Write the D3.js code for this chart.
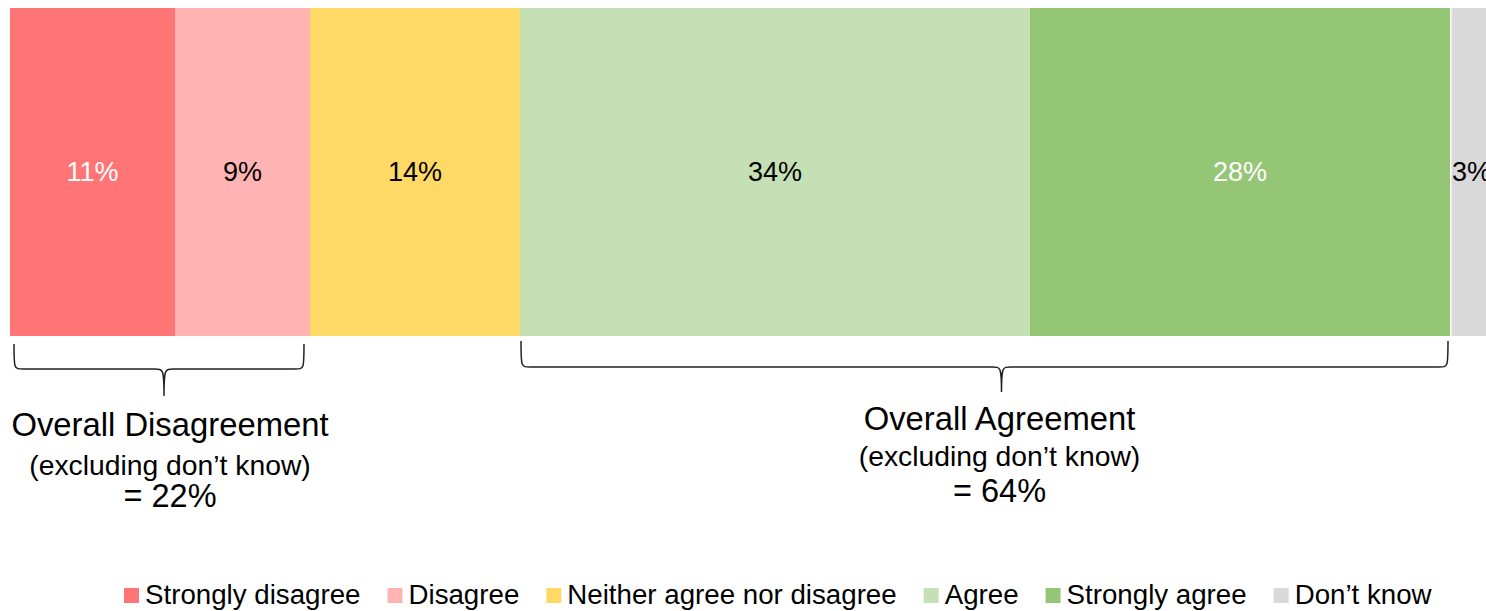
<!DOCTYPE html>
<html><head><meta charset="utf-8">
<script src="https://cdn.jsdelivr.net/npm/d3@7"></script>
<style>
html,body{margin:0;padding:0;background:#fff;overflow:hidden}
text{font-family:"Liberation Sans",Arial,sans-serif}
</style></head>
<body><svg id="chart" width="1486" height="611"></svg>
<script>
// ---- data ----
const categories = ["Strongly disagree","Disagree","Neither agree nor disagree","Agree","Strongly agree","Don\u2019t know"];
const values = [11, 9, 14, 34, 28, 3];
const colors = ["#FF7575","#FFB3B3","#FFD966","#C5E0B4","#95C675","#D9D9D9"];
const labelColors = ["#ffffff","#000000","#000000","#000000","#ffffff","#000000"];
const groupTitles = ["Overall Disagreement","Overall Agreement"];
const groupSubtitles = ["(excluding don\u2019t know)","(excluding don\u2019t know)"];
const groupFrom = [0, 3];
const groupTo = [1, 4];
const groupTotals = [22, 64];

// ---- layout ----
const svg = d3.select("#chart");
const x = d3.scaleLinear().domain([0, 100]).range([10, 1510]);
const y = d3.scaleBand().domain(["all"]).range([8, 336]).padding(0);

let cum = 0;
const segs = values.map((v, i) => { const s = {i, v, x0: cum, x1: cum + v}; cum += v; return s; });

svg.append("g").selectAll("rect").data(segs).join("rect")
  .attr("x", d => x(d.x0) + (d.i === 5 ? 1.5 : 0))
  .attr("y", y("all"))
  .attr("width", d => x(d.x1) - x(d.x0) - (d.i === 5 ? 1.5 : 0))
  .attr("height", y.bandwidth())
  .attr("fill", d => colors[d.i]);

svg.append("g").selectAll("text").data(segs).join("text")
  .attr("x", d => (x(d.x0) + x(d.x1)) / 2 - (d.i === 5 ? 1 : 0))
  .attr("y", y("all") + y.bandwidth() / 2)
  .attr("dy", "0.35em")
  .attr("text-anchor", "middle")
  .attr("font-size", 27)
  .attr("fill", d => labelColors[d.i])
  .text(d => d.v + "%");

// braces
const braceCfg = [
  {inL: 4, inR: 6, y0: 344, y1: 369, y2: 396, tip: 5, tx: 6, ty: [436, 475, 507]},
  {inL: 1, inR: 2, y0: 341, y1: 367, y2: 392, tip: 17, tx: -2, ty: [430, 466, 502]}
];
groupTitles.forEach((t, g) => {
  const c = braceCfg[g];
  const xa = x(segs[groupFrom[g]].x0) + c.inL;
  const xb = x(segs[groupTo[g]].x1) - c.inR;
  const xm = (xa + xb) / 2 + c.tip;
  const r = 9;
  const p = d3.path();
  p.moveTo(xa, c.y0);
  p.bezierCurveTo(xa, c.y1, xa, c.y1, xa + r, c.y1);
  p.lineTo(xm - r, c.y1);
  p.bezierCurveTo(xm - 1, c.y1, xm, c.y1, xm, c.y2);
  p.moveTo(xm, c.y2);
  p.bezierCurveTo(xm, c.y1, xm + 1, c.y1, xm + r, c.y1);
  p.lineTo(xb - r, c.y1);
  p.bezierCurveTo(xb, c.y1, xb, c.y1, xb, c.y0);
  svg.append("path").attr("d", p.toString()).attr("fill", "none")
    .attr("stroke", "#222").attr("stroke-width", 1.5);
  const cx = xm + c.tx;
  svg.append("text").attr("x", cx).attr("y", c.ty[0]).attr("text-anchor", "middle")
    .attr("font-size", 32.8).attr("fill", "#000").text(t);
  svg.append("text").attr("x", cx).attr("y", c.ty[1]).attr("text-anchor", "middle")
    .attr("font-size", 28.3).attr("fill", "#000").text(groupSubtitles[g]);
  svg.append("text").attr("x", cx).attr("y", c.ty[2]).attr("text-anchor", "middle")
    .attr("font-size", 32.5).attr("fill", "#000").text("= " + groupTotals[g] + "%");
});

// legend
const leg = svg.append("g");
let lx = 124;
categories.forEach((c, i) => {
  leg.append("rect").attr("x", lx).attr("y", 588).attr("width", 15).attr("height", 15).attr("fill", colors[i]);
  const t = leg.append("text").attr("x", lx + 21).attr("y", 604).attr("font-size", 27.7)
    .attr("fill", "#000").text(c);
  lx += 21 + t.node().getComputedTextLength() + 27;
});
</script></body></html>
